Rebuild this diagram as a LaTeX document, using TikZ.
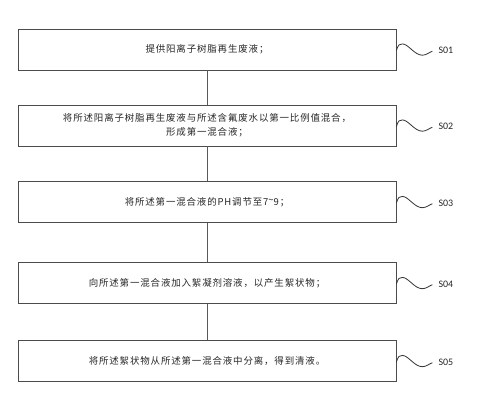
\documentclass[tikz,border=0pt]{standalone}
\usepackage{fontspec}
\newfontfamily\cjk[LetterSpace=9]{Noto Sans CJK SC}
\newfontfamily\lab{Carlito}
\begin{document}
\begin{tikzpicture}[x=1bp,y=-1bp,
  stepbox/.style={draw=black!70,line width=0.7bp,minimum width=378bp,minimum height=41bp,inner sep=0pt,
    font=\cjk\fontsize{9.5}{14}\selectfont,align=center,text=black!85},
  conn/.style={draw=black!65,line width=0.8bp},
  wave/.style={draw=black!80,line width=0.8bp},
  steplab/.style={anchor=west,font=\lab\fontsize{10}{12}\selectfont,inner sep=0pt,text=black!85}]
\useasboundingbox (0,0) rectangle (481,401);
\node[stepbox] (b1) at (207,49.5) {提供阳离子树脂再生废液；};
\node[stepbox] (b2) at (207,125.5) {将所述阳离子树脂再生废液与所述含氟废水以第一比例值混合，\\形成第一混合液；};
\node[stepbox] (b3) at (207,202) {将所述第一混合液的PH调节至7\raisebox{0.3ex}{\textasciitilde}9；};
\node[stepbox] (b4) at (207,283) {向所述第一混合液加入絮凝剂溶液，以产生絮状物；};
\node[stepbox] (b5) at (207,361) {将所述絮状物从所述第一混合液中分离，得到清液。};
\draw[conn] (b1.south) -- (b2.north);
\draw[conn] (b2.south) -- (b3.north);
\draw[conn] (b3.south) -- (b4.north);
\draw[conn] (b4.south) -- (b5.north);
\foreach \b/\t in {b1/S01,b2/S02,b3/S03,b4/S04,b5/S05}{
  \coordinate (w\b) at ([yshift=-1bp]\b.east);
  \draw[wave] (w\b) .. controls +(2,-6) and +(-3,0) .. ++(6,-6.6)
     .. controls +(6,0) and +(-8,0) .. ++(20,11.3)
     .. controls +(4,0) and +(-3,1) .. ++(10,-4);
  \node[steplab] (l\b) at ([xshift=42bp]w\b) {\t};
}
\end{tikzpicture}
\end{document}
